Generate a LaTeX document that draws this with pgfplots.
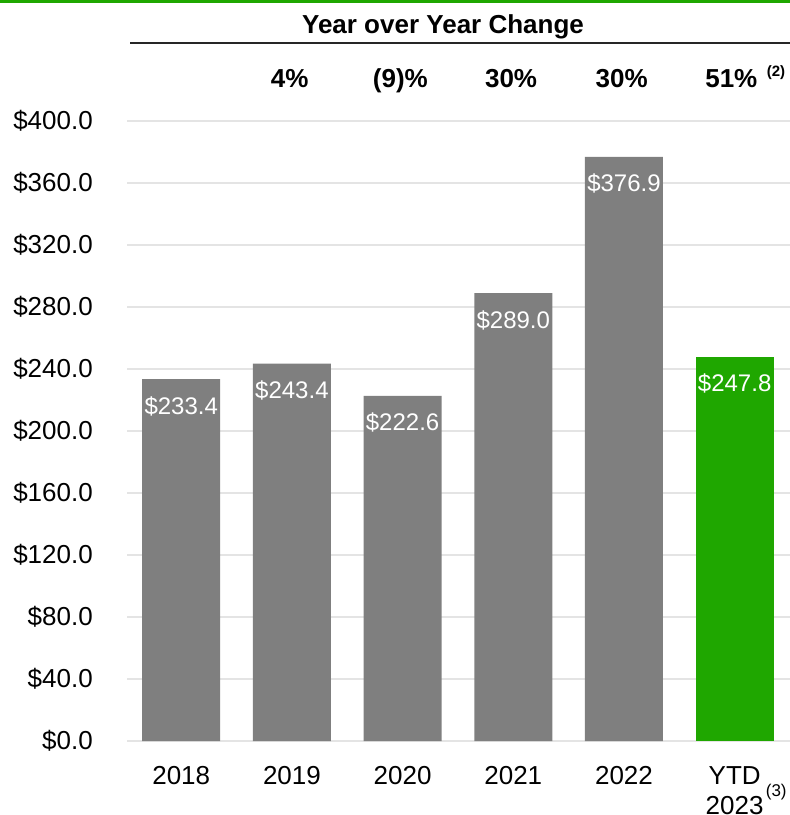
\documentclass[border=0pt]{standalone}
\usepackage{fontspec}
\setmainfont{Liberation Sans}
\setsansfont{Liberation Sans}
\usepackage{pgfplots}
\pgfplotsset{compat=1.18}
\definecolor{bargray}{HTML}{7F7F7F}
\definecolor{bargreen}{HTML}{1FA700}
\definecolor{gridgray}{HTML}{E4E4E4}
\newcommand{\px}[1]{\fontsize{#1}{#1}\selectfont}

\begin{document}
\begin{tikzpicture}
\useasboundingbox (0,0) rectangle (790pt,-815pt);
\fill[bargreen] (0,0) rectangle (790pt,-3pt);
\begin{axis}[
  at={(127pt,-741pt)}, anchor=south west,
  scale only axis, width=663pt, height=620pt,
  xmin=-0.49, xmax=5.5, ymin=0, ymax=400,
  clip=false,
  ybar, bar width=78pt, bar shift=0pt,
  axis line style={draw=none}, tick style={draw=none},
  xtick={0,...,5},
  xticklabels={2018,2019,2020,2021,2022,{YTD\\2023}},
  x tick label style={font=\fontsize{26}{30}\selectfont, align=center, anchor=north, inner sep=0pt, yshift=-21pt},
  ytick={0,40,...,400},
  yticklabel={\$\pgfmathprintnumber[fixed,fixed zerofill,precision=1]{\tick}},
  y tick label style={font=\px{26}, anchor=east, inner sep=0pt, xshift=-34pt},
  ymajorgrids, grid style={line width=2pt, gridgray},
  /pgf/number format/assume math mode=true,
  nodes near coords={\$\pgfmathprintnumber[fixed,fixed zerofill,precision=1]{\pgfplotspointmeta}},
  every node near coord/.append style={font=\px{24}, white, anchor=base, yshift=-35pt, inner sep=0pt},
]
\addplot[fill=bargray, draw=none] coordinates {(0,233.4) (1,243.4) (2,222.6) (3,289.0) (4,376.9)};
\addplot[fill=bargreen, draw=none] coordinates {(5,247.8)};

% year over year row
\node[anchor=base, font=\bfseries\px{26}] at (axis cs:0.98,421.3) {4\%};
\node[anchor=base, font=\bfseries\px{26}] at (axis cs:1.98,421.3) {(9)\%};
\node[anchor=base, font=\bfseries\px{26}] at (axis cs:2.98,421.3) {30\%};
\node[anchor=base, font=\bfseries\px{26}] at (axis cs:3.98,421.3) {30\%};
\node[anchor=base, font=\bfseries\px{26}] at (axis cs:4.97,421.3) {51\%};
\node[anchor=base west, inner sep=0pt, font=\bfseries\px{15}] at (axis cs:5.289,428.4) {(2)};
\node[anchor=base west, inner sep=0pt, font=\px{17}] at (axis cs:5.28,-36.1) {(3)};
\end{axis}
\node[anchor=base, font=\bfseries\px{26}] at (443pt,-33pt) {Year over Year Change};
\draw[line width=2pt, black!85] (130pt,-43pt) -- (790pt,-43pt);
\end{tikzpicture}
\end{document}
